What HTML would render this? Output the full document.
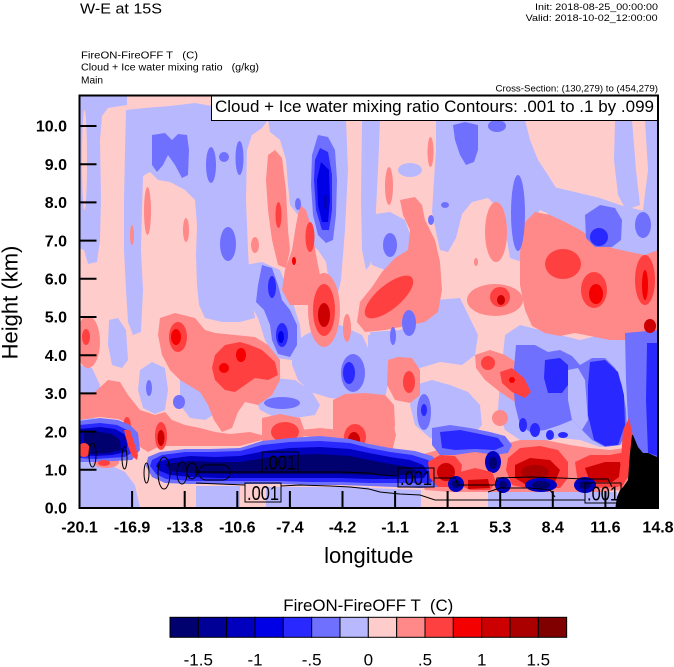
<!DOCTYPE html>
<html><head><meta charset="utf-8"><style>
html,body{margin:0;padding:0;background:#fff}
svg{display:block}
text{font-family:"Liberation Sans",Arial,Helvetica,sans-serif;fill:#000}
.pk{fill:#ffcccc}.lb{fill:#b8b8ff}.mb{fill:#7070ff}.b{fill:#2828ff}.b2{fill:#0000e6}.b3{fill:#0000be}.b4{fill:#000096}.b5{fill:#00006e}
.mr{fill:#ff8888}.r{fill:#ff4040}.r2{fill:#f50000}.r3{fill:#cc0000}.r4{fill:#aa0000}.r5{fill:#800000}
.ct{fill:none;stroke:#000;stroke-width:1}
</style></head><body>
<svg width="674" height="667" viewBox="0 0 674 667" xmlns="http://www.w3.org/2000/svg">
<defs><clipPath id="c"><rect x="79.5" y="95.5" width="578.5" height="412.5"/></clipPath></defs>

<text x="80" y="13.5" font-size="14.5" textLength="82" lengthAdjust="spacingAndGlyphs">W-E at 15S</text>
<text x="535" y="10" font-size="9.5" textLength="123" lengthAdjust="spacingAndGlyphs">Init: 2018-08-25_00:00:00</text>
<text x="525.6" y="21" font-size="9.5" textLength="132" lengthAdjust="spacingAndGlyphs">Valid: 2018-10-02_12:00:00</text>
<text x="81" y="58.3" font-size="10" textLength="117" lengthAdjust="spacingAndGlyphs" xml:space="preserve">FireON-FireOFF T   (C)</text>
<text x="81" y="70.5" font-size="10" textLength="178" lengthAdjust="spacingAndGlyphs" xml:space="preserve">Cloud + Ice water mixing ratio   (g/kg)</text>
<text x="81" y="83.3" font-size="10" textLength="22" lengthAdjust="spacingAndGlyphs">Main</text>
<text x="495.5" y="91.3" font-size="9.5" textLength="162.5" lengthAdjust="spacingAndGlyphs">Cross-Section: (130,279) to (454,279)</text>

<g clip-path="url(#c)">
<rect x="79" y="95" width="580" height="414" class="pk"/>
<!-- light blue -->
<polygon class="lb" points="79,95 127,95 127,105 108,108 102,116 100,140 101,200 100,240 97,262 88,264 84,250 79,248"/>
<ellipse class="pk" cx="84.5" cy="160" rx="2.5" ry="50"/>
<polygon class="lb" points="126,110 145,108 170,106 195,103 212,106 212,120 268,120 262,128 252,135 247,150 246,200 248,250 250,290 255,318 240,322 222,322 205,318 199,305 197,285 196,255 197,225 195,200 185,190 170,182 158,180 150,172 143,176 142,210 141,250 143,290 141,332 133,335 128,322 126,290 124,250 124,200 125,150"/>
<polygon class="lb" points="268,120 346,120 348,170 345,230 341,280 336,302 330,290 326,262 318,250 305,240 298,215 290,205 288,185 286,160 280,140 270,132"/>
<polygon class="lb" points="362,120 380,120 378,170 375,230 370,265 366,270 362,250 361,200"/>
<polygon class="lb" points="436,120 525,120 530,140 538,160 548,175 556,188 560,205 552,215 540,210 532,222 528,250 522,262 510,258 506,235 500,210 488,198 472,202 462,214 456,238 448,252 440,250 436,232 432,212 434,180 436,150"/>
<polygon class="lb" points="368,215 390,212 405,220 412,240 410,260 400,268 385,270 372,265 368,255"/>
<ellipse class="lb" cx="410" cy="170" rx="12" ry="7"/>
<polygon class="lb" points="615,120 632,120 636,170 640,205 626,210 618,195 614,160"/>
<polygon class="lb" points="645,120 658,120 658,260 640,258 643,210 648,170"/>
<polygon class="lb" points="545,185 575,192 600,198 620,205 640,210 658,212 658,258 635,258 615,252 590,252 570,248 555,240 548,225"/>
<polygon class="lb" points="109,320 118,318 126,330 128,360 122,368 112,365 108,345"/>
<polygon class="lb" points="140,370 152,362 165,368 168,390 165,410 155,414 143,408 138,390"/>
<polygon class="lb" points="79,365 92,368 100,385 98,410 92,425 79,428"/>
<polygon class="lb" points="180,378 195,372 210,378 220,392 218,412 205,420 190,418 180,405"/>
<polygon class="lb" points="258,385 275,378 295,380 312,392 320,405 315,415 295,418 272,416 260,410 256,400"/>
<polygon class="lb" points="292,345 305,335 325,325 340,325 362,335 369,350 369,395 350,400 330,398 310,392 298,380 292,365"/>
<polygon class="lb" points="245,265 262,262 280,270 292,300 300,325 302,350 292,360 275,358 265,340 258,318 248,300 242,282"/>
<polygon class="lb" points="370,332 400,330 420,322 435,300 460,298 478,335 475,355 462,365 440,362 420,368 400,365 385,355 372,345"/>
<polygon class="lb" points="415,385 432,380 450,385 468,392 480,405 482,425 470,438 450,440 430,438 415,425 410,405"/>
<polygon class="lb" points="505,335 520,325 540,330 560,335 580,340 600,335 620,330 640,330 658,332 658,460 640,456 630,440 622,445 600,447 580,440 560,438 540,442 520,440 505,430 498,410 500,380 503,355"/>
<polygon class="lb" points="368,335 385,335 392,345 390,370 385,400 376,410 368,410"/>
<polygon class="lb" points="79,462 95,462 110,465 125,472 135,485 140,508 79,508"/>
<polygon class="lb" points="196,486 240,486 240,508 196,508"/>
<polygon class="lb" points="266,487 369,487 369,508 266,508"/>
<polygon class="lb" points="368,488 421,490 421,508 368,508"/>
<polygon class="lb" points="488,492 617,492 617,508 488,508"/>

<!-- medium red -->
<polygon class="mr" points="268,155 275,150 282,158 286,190 288,230 290,250 286,268 278,265 272,240 268,210 266,180"/>
<polygon class="mr" points="300,205 306,210 312,230 316,255 320,275 322,300 318,305 290,305 282,290 285,270 292,250 296,225"/>
<ellipse class="mr" cx="147.5" cy="211" rx="3.5" ry="24"/>
<ellipse class="mr" cx="132" cy="235" rx="2" ry="10"/>
<ellipse class="mr" cx="186" cy="230" rx="3" ry="12"/>
<ellipse class="mr" cx="255" cy="245" rx="4" ry="8"/>
<ellipse class="mr" cx="430.5" cy="152" rx="3" ry="15"/>
<ellipse class="mr" cx="389" cy="186" rx="4" ry="19"/>
<ellipse class="mr" cx="496" cy="232" rx="11" ry="30"/>
<ellipse class="mr" cx="476" cy="262" rx="2" ry="4"/>
<polygon class="mr" points="400,200 415,197 422,205 425,220 435,240 440,262 442,290 438,312 425,322 405,326 385,330 365,332 357,322 360,302 372,287 382,272 395,258 408,250 410,230 403,215"/>
<polygon class="mr" points="522,225 535,212 550,215 565,222 580,230 595,240 612,248 630,252 645,255 658,250 658,335 640,335 625,340 610,340 590,336 575,333 560,336 545,333 532,326 525,310 520,285 520,255"/>
<ellipse class="mr" cx="495" cy="300" rx="28" ry="16"/>
<ellipse class="mr" cx="324" cy="310" rx="16" ry="37"/>
<ellipse class="mr" cx="347" cy="328" rx="4" ry="14"/>
<polygon class="mr" points="160,318 175,313 195,318 205,330 215,333 235,335 255,337 268,345 280,360 280,380 272,395 258,405 245,402 238,412 232,428 222,432 214,420 208,405 200,392 190,386 180,380 170,370 162,355 158,335"/>
<ellipse class="mr" cx="88" cy="342" rx="12" ry="26"/>
<polygon class="mr" points="79,395 95,392 108,380 120,382 128,395 140,410 155,415 165,412 172,420 185,425 200,428 215,432 230,434 250,432 265,436 280,432 300,430 320,428 340,430 369,432 369,445 340,438 300,436 262,440 240,446 200,446 160,446 148,452 140,447 130,424 118,419 100,417 79,420"/>
<polygon class="mr" points="262,418 280,414 300,418 305,432 300,446 280,446 262,444"/>
<polygon class="mr" points="333,400 345,394 365,393 385,395 394,405 395,425 392,445 380,450 360,450 340,448 333,430"/>
<polygon class="mr" points="475,355 490,350 505,355 520,365 533,378 536,395 528,405 515,402 500,392 485,380 476,368"/>
<polygon class="mr" points="388,360 398,357 412,358 420,370 420,395 410,403 395,400 387,385"/>
<polygon class="mr" points="368,410 380,408 392,418 396,435 392,452 380,455 368,455"/>
<ellipse class="mr" cx="500" cy="418" rx="8" ry="8"/>
<ellipse class="mr" cx="650" cy="322" rx="9" ry="12"/>
<polygon class="mr" points="420,455 445,448 470,452 500,445 520,440 545,440 570,445 590,448 610,450 625,448 630,460 628,480 620,490 600,492 570,492 540,492 510,492 480,492 450,492 425,490 418,475"/>
<ellipse class="mr" cx="106" cy="462" rx="13" ry="6"/>

<!-- medium blue / blue -->
<polygon class="mb" points="152,135 165,133 172,140 178,134 187,135 189,150 188,175 182,178 175,165 168,155 163,165 157,172 152,165"/>
<ellipse class="mb" cx="211" cy="165" rx="5" ry="18"/>
<circle class="mb" cx="224" cy="157" r="5"/>
<ellipse class="mb" cx="239.5" cy="158" rx="4" ry="17"/>
<ellipse class="mb" cx="228" cy="244" rx="8" ry="17"/>
<polygon class="mb" points="318,135 328,137 335,150 337,180 336,215 333,240 326,243 318,235 313,215 311,185 312,155"/>
<polygon class="b" points="320,148 328,152 332,175 332,210 329,230 322,230 316,210 314,180 315,160"/>
<polygon class="b2" points="321,162 329,170 330,200 328,222 322,222 318,205 317,180"/>
<rect class="b3" x="323" y="195" width="4" height="14"/>
<ellipse class="mb" cx="298" cy="204" rx="3" ry="6"/>
<polygon class="mb" points="453,125 465,122 478,125 478,150 474,162 466,165 460,155 455,140"/>
<ellipse class="mb" cx="497" cy="126" rx="9" ry="6"/>
<ellipse class="mb" cx="518" cy="213" rx="7" ry="38"/>
<ellipse class="mb" cx="445" cy="205" rx="4" ry="3"/>
<ellipse class="mb" cx="390" cy="245" rx="7" ry="12"/>
<ellipse class="mb" cx="431" cy="220" rx="3" ry="5"/>
<polygon class="mb" points="585,215 600,205 615,208 622,220 621,240 612,247 595,247 586,238"/>
<ellipse class="b" cx="599" cy="237" rx="9" ry="9"/>
<ellipse class="mb" cx="643" cy="225" rx="8" ry="13"/>
<polygon class="mb" points="262,265 272,268 278,285 282,300 290,310 297,325 297,345 290,357 278,354 272,340 270,325 264,310 256,302 258,285"/>
<ellipse class="b" cx="272" cy="287" rx="4" ry="11"/>
<ellipse class="b" cx="282" cy="335" rx="6" ry="12"/>
<ellipse class="b2" cx="281" cy="337" rx="3" ry="6"/>
<ellipse class="mb" cx="353" cy="373" rx="12" ry="19"/>
<ellipse class="b" cx="349" cy="373" rx="6" ry="11"/>
<ellipse class="mb" cx="149" cy="388" rx="3" ry="8"/>
<ellipse class="mb" cx="179" cy="402" rx="6" ry="7"/>
<ellipse class="mb" cx="282" cy="403" rx="18" ry="6"/>
<ellipse class="mb" cx="409" cy="323" rx="7" ry="13"/>
<ellipse class="mb" cx="393" cy="336" rx="3" ry="9"/>
<ellipse class="mb" cx="424" cy="412" rx="7" ry="18"/>
<ellipse class="b" cx="424" cy="410" rx="3" ry="6"/>
<polygon class="mb" points="516,345 535,345 548,352 560,350 572,356 580,365 592,358 605,358 615,368 622,385 626,410 627,432 620,445 605,447 592,440 582,430 572,420 560,425 545,430 530,432 520,425 515,405 513,380"/>
<polygon class="lb" points="568,370 578,368 585,380 588,420 582,430 572,420 568,400"/>
<polygon class="b" points="545,360 560,358 568,365 568,385 562,393 548,393 544,378"/>
<polygon class="b" points="590,362 605,360 618,372 624,395 625,425 618,445 605,446 594,440 588,415 588,385"/>
<ellipse class="b" cx="523" cy="425" rx="4" ry="7"/>
<ellipse class="b" cx="535" cy="430" rx="5" ry="7"/>
<ellipse class="b" cx="550" cy="435" rx="4" ry="5"/>
<ellipse class="b" cx="563" cy="435" rx="5" ry="3"/>
<polygon class="mb" points="625,333 658,330 658,458 640,455 633,437 628,420 626,380"/>
<polygon class="b" points="647,343 658,343 658,456 648,453 646,400"/>

<!-- reds -->
<ellipse class="r" cx="278.5" cy="215" rx="3" ry="13"/>
<ellipse class="r" cx="310" cy="237" rx="4.5" ry="15"/>
<ellipse class="r2" cx="294" cy="261" rx="2" ry="4"/>
<ellipse class="r" cx="563" cy="264" rx="18" ry="15"/>
<ellipse class="r" cx="594" cy="290" rx="13" ry="18"/>
<ellipse class="r2" cx="596" cy="294" rx="7" ry="10"/>
<ellipse class="r" cx="645" cy="280" rx="10" ry="25"/>
<ellipse class="r2" cx="645" cy="285" rx="3" ry="15"/>
<ellipse class="r" cx="500" cy="297" rx="10" ry="10"/>
<ellipse class="r3" cx="501" cy="300" rx="4" ry="5"/>
<ellipse class="r" cx="389" cy="297" rx="30" ry="12" transform="rotate(-40 389 297)"/>
<ellipse class="r" cx="324" cy="310" rx="11" ry="26"/>
<ellipse class="r3" cx="324" cy="315" rx="6" ry="12"/>
<ellipse class="r" cx="178" cy="337" rx="9" ry="15"/>
<ellipse class="r2" cx="176" cy="337" rx="5" ry="8"/>
<polygon class="r" points="215,355 225,345 240,342 250,345 262,350 275,362 278,375 268,380 255,378 245,385 235,392 225,390 215,380 212,368"/>
<circle class="r2" cx="224" cy="368" r="5"/>
<ellipse class="r2" cx="241" cy="355" rx="5" ry="7"/>
<ellipse class="r" cx="86" cy="337" rx="4" ry="8"/>
<ellipse class="r" cx="161" cy="436" rx="6" ry="14"/>
<ellipse class="r3" cx="161" cy="438" rx="3.5" ry="8"/>
<ellipse class="r" cx="127" cy="427" rx="4" ry="10"/>
<ellipse class="r" cx="285" cy="432" rx="14" ry="10"/>
<ellipse class="r" cx="355" cy="437" rx="11" ry="13"/>
<ellipse class="r3" cx="354" cy="440" rx="6" ry="8"/>
<ellipse class="r" cx="488" cy="363" rx="7" ry="7"/>
<polygon class="r" points="500,372 512,368 524,378 531,392 525,398 512,392 502,383"/>
<circle class="r2" cx="512" cy="380" r="3"/>
<ellipse class="r" cx="409" cy="382" rx="6" ry="11"/>
<ellipse class="r3" cx="650" cy="326" rx="6" ry="7"/>

<!-- upper blue layer right of band -->
<polygon class="mb" points="432,428 450,425 470,428 490,432 505,436 512,445 508,453 495,455 475,452 455,455 440,455 432,445"/>
<polygon class="b" points="440,432 460,430 480,434 498,438 504,446 495,450 475,449 455,450 442,448"/>

<!-- dark band left -->
<polygon class="mb" points="79,421 100,418 118,420 130,425 138,433 140,450 132,460 115,461 95,462 79,462"/>
<polygon class="b" points="79,425 100,423 117,425 127,430 133,438 133,452 125,457 110,458 95,459 79,458"/>
<polygon class="b3" points="79,429 100,427 115,429 124,434 128,442 126,452 112,455 95,456 79,455"/>
<polygon class="b5" points="84,433 100,432 112,434 120,440 121,450 108,453 92,454 84,451"/>
<!-- dark band right -->
<polygon class="mb" points="148,457 160,452 185,449 210,449 240,448 262,441 290,438 320,436 350,439 369,444 390,448 415,451 432,456 442,465 444,478 438,487 420,488 395,487 369,486 340,485 310,485 280,484 250,484 220,484 190,484 165,483 152,477 146,466"/>
<polygon class="b" points="152,460 162,455 185,452 210,452 240,451 262,445 290,442 320,441 350,443 369,448 390,452 412,455 428,460 436,468 437,478 430,483 410,483 390,483 369,483 340,482 310,482 280,481 250,481 220,481 190,481 166,479 156,474 150,466"/>
<polygon class="b3" points="158,462 168,459 190,456 215,457 240,456 265,451 290,448 320,447 350,449 369,453 390,457 410,460 423,465 428,472 424,478 405,479 385,479 369,479 340,478 310,478 280,478 250,478 220,478 190,477 170,475 160,471 156,466"/>
<polygon class="b5" points="165,464 190,461 215,462 240,462 265,458 290,455 320,454 350,456 369,460 390,464 410,467 418,472 410,475 390,475 369,475 340,474 310,474 280,474 250,474 220,474 190,473 170,471"/>
<ellipse class="b3" cx="493" cy="462" rx="8" ry="11"/>
<ellipse class="b5" cx="493" cy="463" rx="4" ry="6"/>
<polygon class="r" points="124,430 130,430 134,442 138,455 137,460 132,456 128,446"/>
<ellipse class="r" cx="84" cy="450" rx="6" ry="7"/>
<ellipse class="r" cx="104" cy="463" rx="6" ry="3"/>

<!-- near-surface reds -->
<polygon class="r" points="428,462 440,455 455,456 462,465 460,480 452,487 438,487 430,478"/>
<ellipse class="r3" cx="446" cy="472" rx="9" ry="9"/>
<polygon class="r" points="460,472 475,468 492,472 496,482 490,490 470,490 460,485"/>
<polygon class="r3" points="468,480 488,479 490,488 468,489"/>
<polygon class="r" points="508,458 520,448 540,446 558,450 568,462 568,478 560,488 530,489 512,485 506,470"/>
<polygon class="r3" points="515,465 530,458 550,460 560,470 555,482 525,484 515,478"/>
<ellipse class="r4" cx="535" cy="472" rx="14" ry="7"/>
<polygon class="r" points="575,462 590,455 610,455 625,452 630,462 628,478 618,487 595,488 578,483"/>
<polygon class="r3" points="585,468 605,462 620,462 622,475 612,482 590,482"/>
<polygon class="r" points="623,430 629,418 633,436 631,455 628,475 622,488 618,485 621,460"/>
<ellipse class="b3" cx="456" cy="484" rx="8" ry="8"/>
<ellipse class="b5" cx="456" cy="484" rx="4" ry="4"/>
<ellipse class="b3" cx="503" cy="485" rx="8" ry="8"/>
<ellipse class="b5" cx="503" cy="485" rx="4" ry="4"/>
<ellipse class="b3" cx="541" cy="485" rx="16" ry="7"/>
<ellipse class="b5" cx="541" cy="485" rx="9" ry="4"/>
<ellipse class="b3" cx="585" cy="485" rx="11" ry="8"/>
<ellipse class="b5" cx="585" cy="485" rx="6" ry="4"/>

<!-- terrain -->
<polygon fill="#000" points="615,510 617,497 620,490 623,487 628,480 630,453 632,435 633,435 638,447 643,453 648,453 657,457 659,457 659,510"/>

<!-- contours -->
<polyline class="ct" points="195,472 262,472"/>
<polyline class="ct" points="298,472 340,472 369,473 380,475 398,476"/>
<polyline class="ct" points="434,478 455,478 458,485 495,485 497,478 530,477 560,478 585,479 608,479 612,487"/>
<polyline class="ct" points="196,483 220,484 245,485"/>
<polyline class="ct" points="281,486 300,485 330,486 350,487 369,489 380,492 400,494 420,495 435,500 480,500 520,500 560,500 585,500"/>
<polyline class="ct" points="488,492 500,488 530,488 550,490 555,497"/>
<ellipse class="ct" cx="92.5" cy="455" rx="3.5" ry="12"/>
<ellipse class="ct" cx="124.5" cy="458" rx="2.5" ry="11"/>
<ellipse class="ct" cx="146.5" cy="473" rx="2.5" ry="10"/>
<ellipse class="ct" cx="164" cy="473" rx="6" ry="16"/>
<ellipse class="ct" cx="182" cy="473" rx="5" ry="11"/>
<ellipse class="ct" cx="192" cy="471" rx="5" ry="8"/>
<rect class="ct" x="199" y="465" width="31" height="15" rx="7"/>

<rect class="ct" x="262" y="452" width="36" height="20"/>
<text x="264" y="469.5" font-size="20" textLength="32" lengthAdjust="spacingAndGlyphs">.001</text>
<rect class="ct" x="245" y="483" width="36" height="19"/>
<text x="247" y="500" font-size="20" textLength="32" lengthAdjust="spacingAndGlyphs">.001</text>
<rect class="ct" x="398" y="468" width="36" height="19"/>
<text x="400" y="485" font-size="20" textLength="32" lengthAdjust="spacingAndGlyphs">.001</text>
<rect class="ct" x="585" y="483" width="36" height="20"/>
<text x="587" y="500.5" font-size="20" textLength="32" lengthAdjust="spacingAndGlyphs">.001</text>
</g>

<rect x="211.5" y="95.5" width="446.5" height="25" fill="#fff" stroke="#000" stroke-width="1"/>
<text x="215" y="112" font-size="16.5" textLength="439" lengthAdjust="spacingAndGlyphs">Cloud + Ice water mixing ratio Contours: .001 to .1 by .099</text>

<g stroke="#000" stroke-width="2">
<line x1="79.5" y1="469.8" x2="96.5" y2="469.8"/>
<line x1="79.5" y1="431.6" x2="96.5" y2="431.6"/>
<line x1="79.5" y1="393.4" x2="96.5" y2="393.4"/>
<line x1="79.5" y1="355.2" x2="96.5" y2="355.2"/>
<line x1="79.5" y1="317" x2="96.5" y2="317"/>
<line x1="79.5" y1="278.8" x2="96.5" y2="278.8"/>
<line x1="79.5" y1="240.6" x2="96.5" y2="240.6"/>
<line x1="79.5" y1="202.4" x2="96.5" y2="202.4"/>
<line x1="79.5" y1="164.2" x2="96.5" y2="164.2"/>
<line x1="79.5" y1="126" x2="96.5" y2="126"/>
<line x1="132.1" y1="491" x2="132.1" y2="508"/>
<line x1="184.7" y1="491" x2="184.7" y2="508"/>
<line x1="237.3" y1="491" x2="237.3" y2="508"/>
<line x1="289.9" y1="491" x2="289.9" y2="508"/>
<line x1="342.5" y1="491" x2="342.5" y2="508"/>
<line x1="395.1" y1="491" x2="395.1" y2="508"/>
<line x1="447.6" y1="491" x2="447.6" y2="508"/>
<line x1="500.2" y1="491" x2="500.2" y2="508"/>
<line x1="552.8" y1="491" x2="552.8" y2="508"/>
<line x1="605.4" y1="491" x2="605.4" y2="508"/>
</g>
<rect x="79.5" y="95.5" width="578.5" height="412.5" fill="none" stroke="#000" stroke-width="2"/>

<g font-size="16" font-weight="bold" text-anchor="end">
<text x="67" y="513.7">0.0</text>
<text x="67" y="475.5">1.0</text>
<text x="67" y="437.3">2.0</text>
<text x="67" y="399.1">3.0</text>
<text x="67" y="360.9">4.0</text>
<text x="67" y="322.7">5.0</text>
<text x="67" y="284.5">6.0</text>
<text x="67" y="246.3">7.0</text>
<text x="67" y="208.1">8.0</text>
<text x="67" y="169.9">9.0</text>
<text x="67" y="131.7">10.0</text>
</g>
<text transform="translate(17.5,302.5) rotate(-90)" font-size="22" text-anchor="middle">Height (km)</text>

<g font-size="16" font-weight="bold" text-anchor="middle">
<text x="79.5" y="532.7">-20.1</text>
<text x="132.1" y="532.7">-16.9</text>
<text x="184.7" y="532.7">-13.8</text>
<text x="237.3" y="532.7">-10.6</text>
<text x="289.9" y="532.7">-7.4</text>
<text x="342.5" y="532.7">-4.2</text>
<text x="395.1" y="532.7">-1.1</text>
<text x="447.6" y="532.7">2.1</text>
<text x="500.2" y="532.7">5.3</text>
<text x="552.8" y="532.7">8.4</text>
<text x="605.4" y="532.7">11.6</text>
<text x="658" y="532.7">14.8</text>
</g>
<text x="368.75" y="563" font-size="22" text-anchor="middle">longitude</text>

<text x="368.3" y="611" font-size="17" text-anchor="middle" textLength="170" lengthAdjust="spacingAndGlyphs" xml:space="preserve">FireON-FireOFF T  (C)</text>
<g stroke="#000" stroke-width="1">
<rect x="170" y="617.3" width="28.33" height="20" fill="#00006e"/>
<rect x="198.33" y="617.3" width="28.33" height="20" fill="#000096"/>
<rect x="226.67" y="617.3" width="28.33" height="20" fill="#0000be"/>
<rect x="255" y="617.3" width="28.33" height="20" fill="#0000e6"/>
<rect x="283.33" y="617.3" width="28.33" height="20" fill="#2828ff"/>
<rect x="311.67" y="617.3" width="28.33" height="20" fill="#7070ff"/>
<rect x="340" y="617.3" width="28.33" height="20" fill="#b8b8ff"/>
<rect x="368.33" y="617.3" width="28.33" height="20" fill="#ffcccc"/>
<rect x="396.67" y="617.3" width="28.33" height="20" fill="#ff8888"/>
<rect x="425" y="617.3" width="28.33" height="20" fill="#ff4040"/>
<rect x="453.33" y="617.3" width="28.33" height="20" fill="#f50000"/>
<rect x="481.67" y="617.3" width="28.33" height="20" fill="#cc0000"/>
<rect x="510" y="617.3" width="28.33" height="20" fill="#aa0000"/>
<rect x="538.33" y="617.3" width="28.33" height="20" fill="#800000"/>
</g>
<g font-size="17" text-anchor="middle">
<text x="198.3" y="665.5">-1.5</text>
<text x="255" y="665.5">-1</text>
<text x="311.7" y="665.5">-.5</text>
<text x="368.3" y="665.5">0</text>
<text x="425" y="665.5">.5</text>
<text x="481.7" y="665.5">1</text>
<text x="538.3" y="665.5">1.5</text>
</g>
</svg>
</body></html>
